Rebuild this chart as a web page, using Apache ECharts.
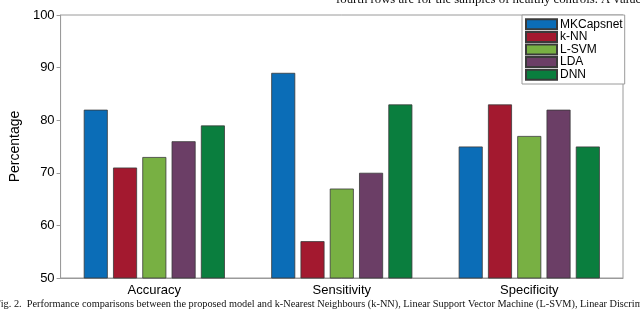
<!DOCTYPE html>
<html><head><meta charset="utf-8">
<script src="https://cdn.jsdelivr.net/npm/echarts@6/dist/echarts.min.js"></script>
<style>html,body{margin:0;padding:0;background:#fff}#c{width:640px;height:310px}</style>
</head><body><div id="c"></div>
<script>
const categories = ['Accuracy', 'Sensitivity', 'Specificity'];
const seriesNames = ['MKCapsnet', 'k-NN', 'L-SVM', 'LDA', 'DNN'];
const mkcapsnet = [82, 89, 75];
const knn = [71, 57, 83];
const lsvm = [73, 67, 77];
const lda = [76, 70, 82];
const dnn = [79, 83, 75];
const yTicks = [50, 60, 70, 80, 90, 100];
const colors = ['#0b6db7', '#a3192f', '#78b043', '#6b3e66', '#0a7e3e'];
const values = [mkcapsnet, knn, lsvm, lda, dnn];
const topText = 'fourth rows are for the samples of healthy controls. A value';
const caption = 'Fig. 2.  Performance comparisons between the proposed model and k-Nearest Neighbours (k-NN), Linear Support Vector Machine (L-SVM), Linear Discrimi';

const chart = echarts.init(document.getElementById('c'));
chart.setOption({
  animation: false,
  backgroundColor: '#fff',
  grid: { left: 55, right: 17, top: 15, bottom: 32, show: true, borderColor: '#9a9a9a', borderWidth: 1 },
  legend: {
    data: seriesNames, orient: 'vertical', left: 522, top: 15,
    icon: 'rect',
    itemWidth: 31, itemHeight: 10, itemGap: 0,
    padding: [3, 2, 3, 3],
    borderColor: '#9a9a9a', borderWidth: 1, backgroundColor: '#fff',
    textStyle: { fontFamily: 'Liberation Sans', fontSize: 12, color: '#000', lineHeight: 12.6, padding: [0, 0, 0, -2] }
  },
  xAxis: {
    type: 'category', data: categories,
    axisLine: { lineStyle: { color: '#9a9a9a' } },
    axisTick: { show: false },
    axisLabel: { fontFamily: 'Liberation Sans', fontSize: 13, color: '#000', margin: 6 }
  },
  yAxis: {
    type: 'value', min: 50, max: 100, interval: 10,
    name: 'Percentage', nameLocation: 'middle', nameGap: 33,
    nameTextStyle: { fontFamily: 'Liberation Sans', fontSize: 14, color: '#000' },
    axisLine: { show: true, lineStyle: { color: '#9a9a9a' } },
    axisTick: { show: true, length: 4, lineStyle: { color: '#9a9a9a' } },
    splitLine: { show: false },
    axisLabel: { fontFamily: 'Liberation Sans', fontSize: 13, color: '#000', margin: 6,
      formatter: v => yTicks.includes(v) ? String(v) : '' }
  },
  series: seriesNames.map((n, i) => ({
    name: n, type: 'bar', data: values[i], barWidth: 24, barGap: '22%',
    itemStyle: { color: colors[i], borderColor: '#3a3a3a', borderWidth: 0.8 }
  })),
  graphic: [
    { type: 'text', left: 336, top: -7, style: { text: topText, font: '12.8px "Liberation Serif"', fill: '#111' } },
    { type: 'text', left: -5, top: 299, style: { text: caption, font: '10.3px "Liberation Serif"', fill: '#111' } }
  ]
});
</script></body></html>
